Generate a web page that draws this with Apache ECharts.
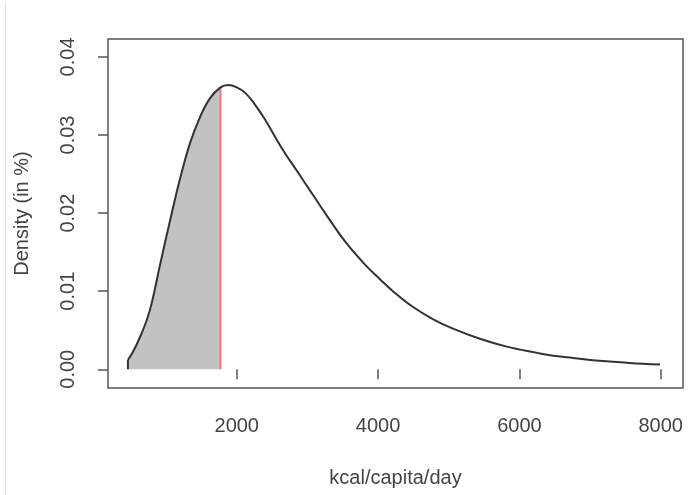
<!DOCTYPE html>
<html><head><meta charset="utf-8">
<script src="https://cdn.jsdelivr.net/npm/echarts@6/dist/echarts.min.js"></script>
<style>html,body{margin:0;padding:0;background:#fff}#c{width:689px;height:495px}</style>
</head><body><div id="c"></div>
<script>
// Density curve (kcal/capita/day -> density in %)
const kcal = [460, 530, 630, 730, 800, 915, 1055, 1200, 1340, 1480, 1620, 1770, 1880, 2000, 2120, 2250, 2400, 2540, 2680, 2830, 2970, 3110, 3250, 3530, 3815, 4030, 4210, 4490, 4780, 5060, 5440, 5820, 6250, 6430, 6715, 7000, 7280, 7560, 7990];
const density = [0.0012, 0.0022, 0.0041, 0.0064, 0.0086, 0.0134, 0.0190, 0.0245, 0.0290, 0.0323, 0.0347, 0.0361, 0.0364, 0.0361, 0.0354, 0.0340, 0.0320, 0.0298, 0.0277, 0.0257, 0.0238, 0.0219, 0.0200, 0.0164, 0.0134, 0.0115, 0.0100, 0.0080, 0.0064, 0.0052, 0.0039, 0.0029, 0.0021, 0.0018, 0.0015, 0.0012, 0.0010, 0.0008, 0.0006];
const cutoff = 1770;
const xTicks = [2000, 4000, 6000, 8000];
const yTicks = [0, 0.01, 0.02, 0.03, 0.04];

const curve = kcal.map((x, i) => [x, density[i]]);
const shaded = curve.filter(p => p[0] <= cutoff);
const cutY = density[kcal.indexOf(cutoff)];
const font = 'Liberation Sans, Arial, sans-serif';
const txt = '#444';

const chart = echarts.init(document.getElementById('c'), null, {renderer: 'canvas'});
chart.setOption({
  animation: false,
  backgroundColor: '#fff',
  grid: {left: 108, top: 39, right: 6, bottom: 107, show: true, borderColor: '#555', borderWidth: 1.5, backgroundColor: 'transparent'},
  xAxis: {
    type: 'value', min: 178, max: 8315,
    name: 'kcal/capita/day', nameLocation: 'middle', nameGap: 80,
    nameTextStyle: {fontFamily: font, fontSize: 20, color: txt},
    axisLine: {show: false}, splitLine: {show: false},
    axisTick: {show: true, length: 10, customValues: xTicks, lineStyle: {color: '#555', width: 1.5}},
    axisLabel: {customValues: xTicks, margin: 28, fontFamily: font, fontSize: 20, color: txt,
      formatter: v => String(v)}
  },
  yAxis: {
    type: 'value', min: -0.0024, max: 0.0423,
    name: 'Density (in %)', nameLocation: 'middle', nameGap: 76, nameRotate: 90,
    nameTextStyle: {fontFamily: font, fontSize: 20, color: txt},
    axisLine: {show: false}, splitLine: {show: false},
    axisTick: {show: true, length: 10, customValues: yTicks, lineStyle: {color: '#555', width: 1.5}},
    axisLabel: {customValues: yTicks, rotate: 90, margin: 30, fontFamily: font, fontSize: 20, color: txt,
      formatter: v => v.toFixed(2)}
  },
  series: [
    {type: 'line', data: shaded, symbol: 'none', smooth: 0.4, z: 1,
     lineStyle: {width: 0}, areaStyle: {color: '#c2c2c2', opacity: 1, origin: 0}},
    {type: 'line', data: curve, symbol: 'none', smooth: 0.4, z: 3,
     lineStyle: {color: '#333', width: 2}},
    {type: 'line', data: [[kcal[0], 0], [kcal[0], density[0]]], symbol: 'none', z: 3,
     lineStyle: {color: '#333', width: 2}},
    {type: 'line', data: [[cutoff, 0], [cutoff, cutY]], symbol: 'none', z: 2,
     lineStyle: {color: '#ef7780', width: 2}}
  ],
  graphic: [
    {type: 'line', shape: {x1: 5.5, y1: 3, x2: 5.5, y2: 495}, style: {stroke: '#ddd', lineWidth: 1}}
  ]
});
</script></body></html>
